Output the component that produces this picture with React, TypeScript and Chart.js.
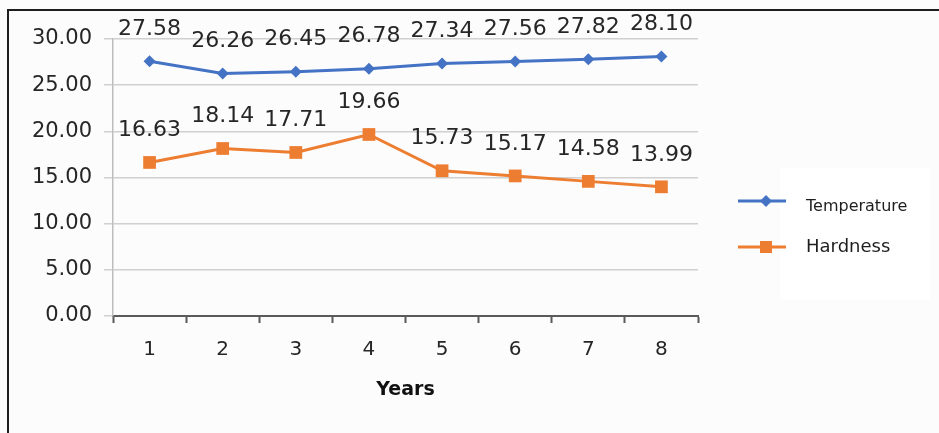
import React, { useEffect, useRef } from "react";
import { Chart, registerables } from "chart.js";

Chart.register(...registerables);

const years = ["1", "2", "3", "4", "5", "6", "7", "8"];
const temperature = [27.58, 26.26, 26.45, 26.78, 27.34, 27.56, 27.82, 28.1];
const hardness = [16.63, 18.14, 17.71, 19.66, 15.73, 15.17, 14.58, 13.99];
const yTicks = [0, 5, 10, 15, 20, 25, 30];

const BLUE = "#4472C4";
const ORANGE = "#ED7D31";
const TEXT = "#262626";
const FONT = "'DejaVu Sans', sans-serif";

// Page background and the thin frame along the top and left edges
const framePlugin = {
  id: "frame",
  beforeDraw(chart: any) {
    const { ctx, width, height } = chart;
    ctx.save();
    ctx.fillStyle = "#fcfcfc";
    ctx.fillRect(0, 0, width, height);
    ctx.fillStyle = "#ffffff";
    ctx.fillRect(780, 168, 150, 132);
    ctx.strokeStyle = "#1e1e1e";
    ctx.lineWidth = 2;
    ctx.beginPath();
    ctx.moveTo(8, height);
    ctx.lineTo(8, 10);
    ctx.lineTo(width, 10);
    ctx.stroke();
    ctx.restore();
  },
};

// Value labels written above each point
const valueLabelPlugin = {
  id: "valueLabels",
  afterDatasetsDraw(chart: any) {
    const { ctx } = chart;
    ctx.save();
    ctx.font = `22px ${FONT}`;
    ctx.fillStyle = TEXT;
    ctx.textAlign = "center";
    ctx.textBaseline = "middle";
    chart.data.datasets.forEach((ds: any, i: number) => {
      const meta = chart.getDatasetMeta(i);
      meta.data.forEach((pt: any, j: number) => {
        ctx.fillText(Number(ds.data[j]).toFixed(2), pt.x, pt.y - 32);
      });
    });
    ctx.restore();
  },
};

// Legend on the right: line segment with the series marker, then its name
const sideLegendPlugin = {
  id: "sideLegend",
  afterDraw(chart: any) {
    const { ctx } = chart;
    const entries = [
      { ds: chart.data.datasets[0], lineY: 201, textY: 207, size: 16 },
      { ds: chart.data.datasets[1], lineY: 247, textY: 247, size: 18 },
    ];
    ctx.save();
    entries.forEach((e) => {
      ctx.strokeStyle = e.ds.borderColor;
      ctx.lineWidth = 3;
      ctx.beginPath();
      ctx.moveTo(738, e.lineY);
      ctx.lineTo(786, e.lineY);
      ctx.stroke();
      ctx.fillStyle = e.ds.borderColor;
      if (e.ds.pointStyle === "rectRot") {
        ctx.beginPath();
        ctx.moveTo(766, e.lineY - 6);
        ctx.lineTo(772, e.lineY);
        ctx.lineTo(766, e.lineY + 6);
        ctx.lineTo(760, e.lineY);
        ctx.closePath();
        ctx.fill();
      } else {
        ctx.fillRect(760, e.lineY - 6, 12, 12);
      }
      ctx.fillStyle = "#1e1e1e";
      ctx.font = `${e.size}px ${FONT}`;
      ctx.textAlign = "left";
      ctx.textBaseline = "middle";
      ctx.fillText(e.ds.label, 806, e.textY);
    });
    ctx.restore();
  },
};

export default function App() {
  const canvasRef = useRef<HTMLCanvasElement | null>(null);

  useEffect(() => {
    if (!canvasRef.current) return;
    const chart = new Chart(canvasRef.current, {
      type: "line",
      data: {
        labels: years,
        datasets: [
          {
            label: "Temperature",
            data: temperature,
            borderColor: BLUE,
            backgroundColor: BLUE,
            borderWidth: 3,
            pointStyle: "rectRot",
            pointRadius: 6,
            pointBorderWidth: 0,
            tension: 0,
          },
          {
            label: "Hardness",
            data: hardness,
            borderColor: ORANGE,
            backgroundColor: ORANGE,
            borderWidth: 3,
            pointStyle: "rect",
            pointRadius: 9,
            pointBorderWidth: 0,
            tension: 0,
          },
        ],
      },
      options: {
        responsive: false,
        animation: false,
        events: [],
        layout: { padding: { left: 0, right: 241, top: 39, bottom: 0 } },
        plugins: {
          legend: { display: false },
          tooltip: { enabled: false },
        },
        scales: {
          x: {
            offset: true,
            grid: {
              offset: true,
              drawOnChartArea: false,
              drawTicks: true,
              tickLength: 7,
              tickWidth: 2,
              tickColor: "#5a5a5a",
            },
            border: { color: "#5a5a5a", width: 2 },
            ticks: {
              color: TEXT,
              font: { family: FONT, size: 20 },
              padding: 15,
              maxRotation: 0,
            },
            title: {
              display: true,
              text: "Years",
              color: "#111111",
              font: { family: FONT, size: 19, weight: "bold" },
              padding: { top: 0, bottom: 32 },
            },
            afterFit(scale: any) {
              scale.height = 117;
            },
          },
          y: {
            min: 0,
            max: 30,
            afterBuildTicks(scale: any) {
              scale.ticks = yTicks.map((v) => ({ value: v }));
            },
            grid: {
              color: "#d0d0d0",
              lineWidth: 1.5,
              drawTicks: true,
              tickLength: 9,
            },
            border: { color: "#bdbdbd", width: 1.5 },
            ticks: {
              color: TEXT,
              font: { family: FONT, size: 21 },
              padding: 12,
              callback: (v: any) => Number(v).toFixed(2),
            },
            afterFit(scale: any) {
              scale.width = 113;
            },
          },
        },
      },
      plugins: [framePlugin, valueLabelPlugin, sideLegendPlugin],
    });
    return () => chart.destroy();
  }, []);

  return (
    <div style={{ position: "fixed", left: 0, top: 0, width: 939, height: 433 }}>
      <canvas ref={canvasRef} width={939} height={433} />
    </div>
  );
}
